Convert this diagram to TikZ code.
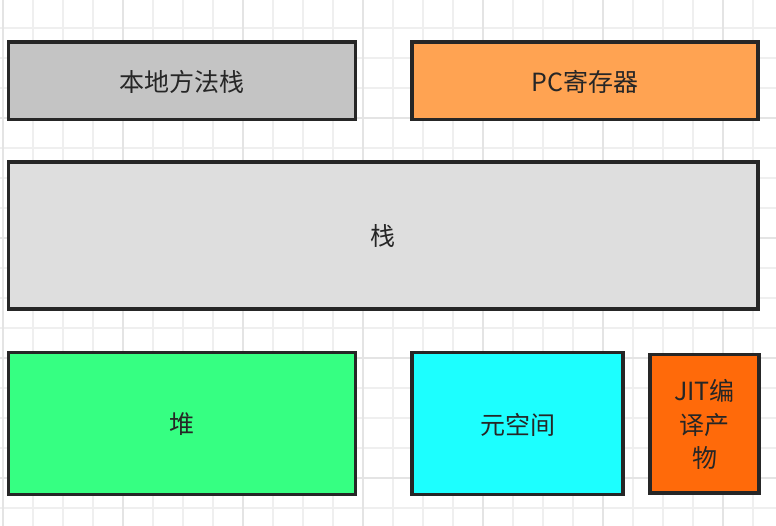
\documentclass[tikz,border=0pt]{standalone}
\usepackage{fontspec}
\newfontfamily\cjk{Noto Sans CJK SC}
\definecolor{gridminor}{HTML}{EFEFEF}
\definecolor{gridmajor}{HTML}{E4E4E4}
\definecolor{edge}{HTML}{262626}
\definecolor{nativegray}{HTML}{C4C4C4}
\definecolor{pcorange}{HTML}{FFA352}
\definecolor{stackgray}{HTML}{DEDEDE}
\definecolor{heapgreen}{HTML}{36FF82}
\definecolor{metacyan}{HTML}{1CFFFF}
\definecolor{jitorange}{HTML}{FF6A0A}
\begin{document}
\begin{tikzpicture}[x=1pt,y=-1pt,
    box/.style={draw=edge,line width=3.5pt,rectangle,inner sep=0pt,text=edge,text depth=0pt,
                font=\cjk\fontsize{25}{33.5}\selectfont},
    minorline/.style={draw=gridminor,line width=1.3pt},
    majorline/.style={draw=gridmajor,line width=2pt}]
    \useasboundingbox (0,0) rectangle (776,526);
    % background grid
    \foreach \x in {3,33,...,773} \draw [minorline] (\x,0) -- (\x,526);
    \foreach \y in {28,58,...,508} \draw [minorline] (0,\y) -- (776,\y);
    \foreach \x in {3,123,...,723} \draw [majorline] (\x,0) -- (\x,526);
    \foreach \y in {118,238,...,478} \draw [majorline] (0,\y) -- (776,\y);
    % memory areas
    \node [box,fill=nativegray,minimum width=347.2pt,minimum height=77.5pt] (native) at (181.9,80.75) {本地方法栈};
    \node [box,fill=pcorange,minimum width=346pt,minimum height=77.5pt] (pc) at (585,80.75) {PC寄存器};
    \node [box,fill=stackgray,minimum width=749.7pt,minimum height=147pt] (stack) at (383.15,235.5) {栈};
    \node [box,fill=heapgreen,minimum width=347.2pt,minimum height=142pt] (heap) at (181.9,423.5) {堆};
    \node [box,fill=metacyan,minimum width=211pt,minimum height=142pt] (meta) at (517.5,423.5) {元空间};
    \node [box,fill=jitorange,minimum width=109pt,minimum height=138.5pt,align=center] (jit) at (704.5,423.75) {JIT编\\译产\\物};
\end{tikzpicture}
\end{document}
